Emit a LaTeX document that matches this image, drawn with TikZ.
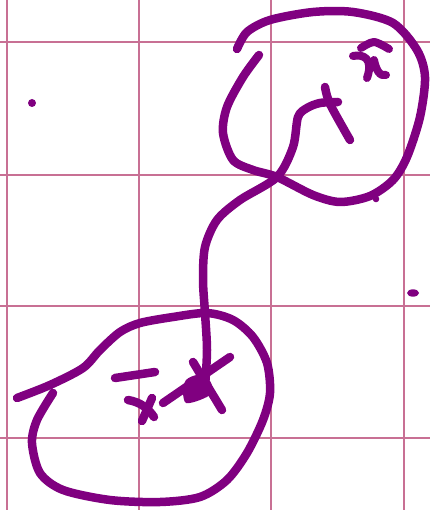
\documentclass[tikz,border=0pt]{standalone}
\begin{document}
\begin{tikzpicture}[x=1pt,y=-1pt,
  gridline/.style={draw=gridpink,line width=2pt},
  ink/.style={draw=inkpurple,line width=8.5pt,line cap=round,line join=round},
  thin ink/.style={draw=inkpurple,line width=8pt,line cap=round,line join=round}]
\definecolor{gridpink}{RGB}{200,112,148}
\definecolor{inkpurple}{RGB}{128,0,128}
\useasboundingbox (0,0) rectangle (430,510);
\fill[white] (0,0) rectangle (430,510);
% grid
\foreach \gx in {7,139,271,404} \draw[gridline] (\gx,0) -- (\gx,510);
\foreach \gy in {42,175,306,438} \draw[gridline] (0,\gy) -- (430,\gy);
% upper loop
\draw[ink] plot[smooth] coordinates {(237,49) (247,32) (270,20) (313,12) (353,12) (393,23) (417,50) (425,77) (420,117) (407,157) (393,180) (370,196) (340,202) (313,195) (277,177) (253,170) (233,160) (223,133) (227,107) (243,77) (259,55)};
% lower loop
\draw[ink] plot[smooth] coordinates {(17,398) (50,385) (83,368) (100,350) (120,332) (140,323) (173,317) (207,313) (233,320) (253,337) (267,363) (270,393) (263,420) (247,453) (227,480) (200,497) (160,502) (110,500) (63,490) (40,473) (32,443) (37,420) (53,393)};
% connector
\coordinate (top) at (338,102);
\coordinate (bot) at (205,387);
\draw[ink] plot[smooth] coordinates {(top) (320,103) (307,108) (298,117) (293,147) (277,177) (240,200) (217,220) (205,247) (203,280) (205,313) (207,350) (bot)};
% upper x mark
\draw[ink] plot[smooth] coordinates {(325,87) (330,104) (350,140)};
% hat x
\draw[thin ink] plot[smooth] coordinates {(361,48) (374,42) (389,49)};
\draw[thin ink] (353,56) .. controls (363,54) and (374,58) .. (367,78);
\draw[thin ink] (374,60) .. controls (376,70) and (380,77) .. (386,75);
% lower marks
\draw[ink] (115,378) -- (155,372);
\draw[ink] (128,400) .. controls (140,402) and (148,408) .. (154,417);
\draw[ink] (152,398) -- (142,421);
\draw[ink] (163,403) -- (230,357);
\draw[ink] (193,362) -- (222,410);
\fill[inkpurple] plot[smooth cycle] coordinates {(186,380) (198,375) (210,381) (212,393) (200,400) (186,403) (183,392)};
% dots
\fill[inkpurple] (32,103) circle (4);
\fill[inkpurple] (376,199) circle (3.3);
\fill[inkpurple] (413,293) ellipse (6 and 3.7);
\end{tikzpicture}
\end{document}
